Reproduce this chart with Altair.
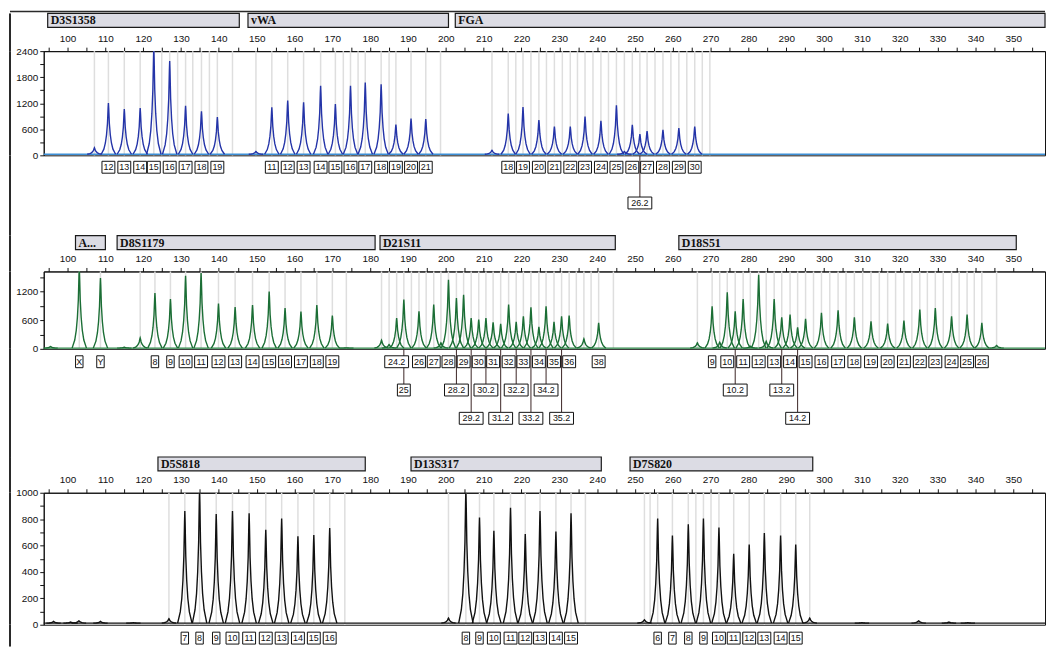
import altair as alt
import pandas as pd

# ---------------- shared axis values ----------------
X_DOMAIN = [93.7, 358.4]
X_TICKS = [95, 100, 105, 110, 115, 120, 125, 130, 135, 140, 145, 150, 155, 160, 165, 170,
           175, 180, 185, 190, 195, 200, 205, 210, 215, 220, 225, 230, 235, 240, 245, 250,
           255, 260, 265, 270, 275, 280, 285, 290, 295, 300, 305, 310, 315, 320, 325, 330,
           335, 340, 345, 350, 355]

# ---------------- panel 1 (blue) ----------------
P1_LOCI = ["D3S1358", "vWA", "FGA"]
P1_LOCUS_START = [94.75, 147.7, 202.5]
P1_LOCUS_END = [145.4, 200.7, 358.4]
P1_Y_TICKS = [0, 300, 600, 900, 1200, 1500, 1800, 2100, 2400]
P1_Y_MAX = 2400
P1_BASE = 25
P1_PEAK_POS = [107.1, 110.8, 115.0, 119.2, 122.8, 127.0, 131.2, 135.4, 139.6,
               149.8, 154.0, 158.2, 162.4, 166.9, 170.8, 174.8, 178.7, 182.9, 186.8, 190.8, 194.7,
               212.2, 216.5, 220.4, 224.6, 228.7, 232.9, 236.8, 241.0, 245.1, 247.2, 249.3, 251.3,
               253.2, 257.4, 261.6, 265.8]
P1_PEAK_H = [175, 1204, 1067, 1090, 2500, 2172, 1143, 1013, 884,
             90, 1105, 1265, 1219, 1600, 1181, 1600, 1676, 1638, 709, 846, 838,
             115, 960, 1110, 815, 665, 665, 895, 795, 1150, 90, 700, 490,
             560, 585, 625, 660]
P1_BINS = [107.1, 110.8, 115.0, 119.2, 122.8, 124.9, 127.0, 129.1, 131.2, 133.1, 135.4, 137.5, 139.6, 143.6,
           149.8, 154.0, 158.2, 162.4, 166.9, 170.8, 172.9, 174.8, 176.8, 178.7, 182.9, 185.0, 186.8,
           190.8, 194.7, 198.6,
           212.2, 216.5, 218.5, 220.4, 222.5, 224.6, 226.6, 228.7, 230.8, 232.9, 234.8, 236.8, 238.9,
           241.0, 243.0, 245.1, 247.2, 249.3, 251.3, 253.2, 255.3, 257.4, 259.5, 261.6, 263.7, 265.8,
           267.8, 269.8]
P1_LABEL_POS = [110.8, 115.0, 119.2, 122.8, 127.0, 131.2, 135.4, 139.6,
                154.0, 158.2, 162.4, 166.9, 170.8, 174.8, 178.7, 182.9, 186.8, 190.8, 194.7,
                216.5, 220.4, 224.6, 228.7, 232.9, 236.8, 241.0, 245.1, 249.3, 253.2, 257.4, 261.6, 265.8,
                251.3]
P1_LABEL_TEXT = ["12", "13", "14", "15", "16", "17", "18", "19",
                 "11", "12", "13", "14", "15", "16", "17", "18", "19", "20", "21",
                 "18", "19", "20", "21", "22", "23", "24", "25", "26", "27", "28", "29", "30",
                 "26.2"]
P1_LABEL_ROW = [1] * 32 + [2]

# ---------------- panel 2 (green) ----------------
P2_LOCI = ["A...", "D8S1179", "D21S11", "D18S51"]
P2_LOCUS_START = [102.1, 113.1, 182.6, 261.6]
P2_LOCUS_END = [110.0, 181.3, 244.8, 350.8]
P2_Y_TICKS = [0, 300, 600, 900, 1200, 1500]
P2_Y_MAX = 1616
P2_BASE = 15
P2_PEAK_POS = [95.5, 103.1, 108.7, 115.0, 119.2,
               123.1, 127.2, 131.2, 135.3, 139.9, 144.3, 148.9, 153.3, 157.5, 161.7, 165.9, 170.0, 173.7,
               183.0, 185.0, 187.0, 188.9, 192.9, 196.8, 198.7, 200.7, 202.8, 204.7, 206.7, 208.7,
               210.6, 212.5, 214.5, 216.6, 218.6, 220.5, 222.5, 224.6, 226.5, 228.6, 230.6, 232.6,
               236.5, 240.4,
               266.5, 270.4, 272.4, 274.4, 276.5, 278.6, 280.5, 282.7, 284.7, 286.8, 288.8, 291.0,
               293.0, 295.1, 299.3, 303.7, 308.0, 312.4, 316.8, 321.1, 325.3, 329.4, 333.7, 337.8,
               341.7, 345.6]
P2_PEAK_H = [50, 1700, 1478, 35, 229,
             1166, 1041, 1527, 1582, 944, 874, 916, 1194, 854, 777, 916, 694, 20,
             180, 90, 645, 1027, 784, 923, 125, 1443, 1062, 1131, 645, 611,
             645, 555, 520, 923, 562, 680, 867, 458, 888, 562, 680, 694,
             208, 541,
             125, 888, 139, 1180, 784, 1041, 55, 1548, 160, 1041, 659, 715,
             451, 625, 750, 805, 659, 576, 527, 590, 819, 854, 680, 715,
             541, 70]
P2_BINS = [103.1, 108.7,
           119.2, 123.1, 127.2, 131.2, 135.3, 139.9, 144.3, 148.9, 153.3, 157.5, 161.7, 165.9, 170.0, 173.7,
           183.0, 185.0, 187.0, 188.9, 190.9, 192.9, 194.8, 196.8, 198.7, 200.7, 202.8, 204.7, 206.7,
           208.7, 210.6, 212.5, 214.5, 216.6, 218.6, 220.5, 222.5, 224.6, 226.5, 228.6, 230.6, 232.6,
           234.5, 236.5, 238.4, 240.4, 244.3,
           266.5, 270.4, 272.4, 274.4, 276.5, 278.6, 280.5, 282.7, 284.7, 286.8, 288.8, 291.0, 293.0,
           295.1, 297.2, 299.3, 301.5, 303.7, 305.8, 308.0, 310.2, 312.4, 314.6, 316.8, 318.9, 321.1,
           323.2, 325.3, 327.3, 329.4, 331.5, 333.7, 335.7, 337.8, 339.7, 341.7, 345.6]
P2_LABEL_POS = [103.1, 108.7,
                123.1, 127.2, 131.2, 135.3, 139.9, 144.3, 148.9, 153.3, 157.5, 161.7, 165.9, 170.0,
                187.0, 192.9, 196.8, 200.7, 204.7, 208.7, 212.5, 216.6, 220.5, 224.6, 228.6, 232.6, 240.4,
                188.9, 202.8, 210.6, 218.6, 226.5,
                206.7, 214.5, 222.5, 230.6,
                270.4, 274.4, 278.6, 282.7, 286.8, 291.0, 295.1, 299.3, 303.7, 308.0, 312.4, 316.8,
                321.1, 325.3, 329.4, 333.7, 337.8, 341.7,
                276.5, 288.8,
                293.0]
P2_LABEL_TEXT = ["X", "Y",
                 "8", "9", "10", "11", "12", "13", "14", "15", "16", "17", "18", "19",
                 "24.2", "26", "27", "28", "29", "30", "31", "32", "33", "34", "35", "36", "38",
                 "25", "28.2", "30.2", "32.2", "34.2",
                 "29.2", "31.2", "33.2", "35.2",
                 "9", "10", "11", "12", "13", "14", "15", "16", "17", "18", "19", "20",
                 "21", "22", "23", "24", "25", "26",
                 "10.2", "13.2",
                 "14.2"]
P2_LABEL_ROW = ([1] * 27 + [2] * 5 + [3] * 4 + [1] * 18 + [2] * 2 + [3])

# ---------------- panel 3 (black) ----------------
P3_LOCI = ["D5S818", "D13S317", "D7S820"]
P3_LOCUS_START = [123.9, 190.8, 248.7]
P3_LOCUS_END = [178.7, 241.1, 297.0]
P3_Y_TICKS = [0, 100, 200, 300, 400, 500, 600, 700, 800, 900, 1000]
P3_Y_MAX = 1000
P3_BASE = 12
P3_PEAK_POS = [96.3, 100.8, 103.0, 108.7, 117.4, 126.8,
               131.0, 134.9, 139.3, 143.6, 148.0, 152.4, 156.6, 160.9, 165.1, 169.3,
               200.7, 205.3, 208.9, 212.7, 217.1, 221.0, 224.9, 229.1, 233.1,
               252.5, 256.0, 259.9, 264.1, 268.1, 272.2, 276.1, 280.2, 284.2, 288.5, 292.5, 296.2,
               310.0, 325.0, 333.0, 338.0]
P3_PEAK_H = [25, 20, 30, 25, 15, 45,
             862, 1030, 838, 862, 845, 720, 805, 670, 680, 733,
             50, 1030, 812, 712, 887, 687, 862, 707, 845,
             38, 805, 675, 762, 805, 737, 537, 607, 695, 675, 607, 50,
             15, 30, 20, 15]
P3_BINS = [126.8, 131.0, 134.9, 139.3, 143.6, 148.0, 152.4, 156.6, 160.9, 165.1, 169.3, 173.3,
           200.7, 205.3, 208.9, 212.7, 217.1, 221.0, 224.9, 229.1, 233.1, 236.9,
           252.5, 254.0, 256.0, 259.9, 264.1, 266.1, 268.1, 270.1, 272.2, 276.1, 280.2, 284.2,
           288.5, 292.5, 296.2]
P3_LABEL_POS = [131.0, 134.9, 139.3, 143.6, 148.0, 152.4, 156.6, 160.9, 165.1, 169.3,
                205.3, 208.9, 212.7, 217.1, 221.0, 224.9, 229.1, 233.1,
                256.0, 259.9, 264.1, 268.1, 272.2, 276.1, 280.2, 284.2, 288.5, 292.5]
P3_LABEL_TEXT = ["7", "8", "9", "10", "11", "12", "13", "14", "15", "16",
                 "8", "9", "10", "11", "12", "13", "14", "15",
                 "6", "7", "8", "9", "10", "11", "12", "13", "14", "15"]
P3_LABEL_ROW = [1] * 28

# ---------------- layout / style ----------------
W = 1009
PX_PER_UNIT = W / (X_DOMAIN[1] - X_DOMAIN[0])
SANS = "Liberation Sans"
SERIF = "Liberation Serif"
PEAK_OFFS = "[-1.9,-1.2,-0.8,-0.5,-0.25,-0.08,0,0.08,0.25,0.5,0.8,1.2,1.9]"
PEAK_FRAC = "[0,0.1,0.22,0.38,0.6,0.9,1,0.9,0.6,0.38,0.22,0.1,0]"
BAR_H = 14
FRAME_X = -34          # outer page frame, left of the y axes
FRAME_COLOR = "#2a2a2a"


def xscale():
    return alt.Scale(domain=X_DOMAIN, nice=False, zero=False)


def frame_left(height):
    return alt.Chart(alt.Data(values=[{}])).mark_rule(
        color=FRAME_COLOR, strokeWidth=2).encode(
        x=alt.value(FRAME_X), y=alt.value(0), y2=alt.value(height))


def frame_top():
    return alt.Chart(alt.Data(values=[{}])).mark_rule(
        color=FRAME_COLOR, strokeWidth=1.5).encode(
        x=alt.value(FRAME_X), x2=alt.value(W), y=alt.value(-2))


def header_chart(names, starts, ends, height, top=False):
    df = pd.DataFrame({"locus": names, "start": starts, "end": ends})
    ys = alt.Scale(domain=[0, height / BAR_H], reverse=True, nice=False, zero=False)
    base = alt.Chart(df)
    rect = base.mark_rect(fill="#dcdce4", stroke="#1a1a1a", strokeWidth=1.2).encode(
        x=alt.X("start:Q", scale=xscale(), axis=None),
        x2="end:Q",
        y=alt.Y(datum=0, scale=ys, axis=None),
        y2=alt.Y2(datum=1),
    )
    txt = base.mark_text(align="left", baseline="middle", dx=3, font=SERIF,
                         fontWeight="bold", fontSize=12, color="#111").encode(
        x=alt.X("start:Q", scale=xscale(), axis=None),
        y=alt.Y(datum=0.5, scale=ys, axis=None),
        text="locus:N",
    )
    layers = [rect, txt, frame_left(height)]
    if top:
        layers.append(frame_top())
    return alt.layer(*layers).properties(width=W, height=height)


def plot_chart(peak_pos, peak_h, bins, ymax, yticks, ystep, base_level, line_color,
               base_color, height):
    xaxis = alt.Axis(orient="top", values=X_TICKS, title=None, grid=False,
                     labelExpr="datum.value % 10 == 0 ? datum.label : ''",
                     tickSize=4, labelPadding=4, labelFontSize=10, labelFont=SANS,
                     labelColor="#111", domainColor="#111", tickColor="#111",
                     labelFlush=False, labelOverlap=False)
    yaxis = alt.Axis(orient="left", values=yticks, title=None, grid=False,
                     labelExpr=f"datum.value % {ystep} == 0 ? datum.label : ''",
                     tickSize=4, labelPadding=2, labelFontSize=10, labelFont=SANS,
                     labelColor="#111", domainColor="#111", tickColor="#111",
                     labelFlush=False, labelOverlap=False, format="d")
    ys = alt.Scale(domain=[0, ymax], nice=False, zero=False)

    bins_df = pd.DataFrame({"bin": bins})
    bin_layer = alt.Chart(bins_df).mark_rule(color="#dedede", strokeWidth=1.5).encode(
        x=alt.X("bin:Q", scale=xscale(), axis=xaxis),
    )

    base_df = pd.DataFrame({"x0": [X_DOMAIN[0]], "x1": [X_DOMAIN[1]], "lvl": [base_level]})
    base_layer = alt.Chart(base_df).mark_rule(color=base_color, strokeWidth=1.3).encode(
        x=alt.X("x0:Q", scale=xscale(), axis=xaxis),
        x2="x1:Q",
        y=alt.Y("lvl:Q", scale=ys, axis=yaxis),
    )

    peaks_df = pd.DataFrame({"pos": peak_pos, "h": peak_h})
    trace = alt.Chart(peaks_df).transform_calculate(
        offs=PEAK_OFFS, fr=PEAK_FRAC
    ).transform_flatten(["offs", "fr"]).transform_calculate(
        px="datum.pos + datum.offs",
        py=f"{base_level} + (datum.h - {base_level}) * datum.fr",
    ).mark_line(color=line_color, strokeWidth=1.4, clip=True).encode(
        x=alt.X("px:Q", scale=xscale(), axis=xaxis),
        y=alt.Y("py:Q", scale=ys, axis=yaxis),
        detail="pos:Q",
    )
    return alt.layer(bin_layer, base_layer, trace, frame_left(height)).properties(
        width=W, height=height,
        view=alt.ViewBackground(stroke="#111", strokeWidth=1),
    )


def label_chart(pos, text, row, height, row_px0, row_gap):
    df = pd.DataFrame({"pos": pos, "lab": text, "row": row})
    r0 = 1 - row_px0 / row_gap
    r1 = 1 + (height - row_px0) / row_gap
    hh = 6.0 / row_gap
    ys = alt.Scale(domain=[r0, r1], reverse=True, nice=False, zero=False)
    base = alt.Chart(df).transform_calculate(
        hw=f"(5.5 * length(datum.lab) + 2) / 2 / {PX_PER_UNIT}",
        xl="datum.pos - datum.hw",
        xr="datum.pos + datum.hw",
        yt=f"datum.row - {hh}",
        yb=f"datum.row + {hh}",
        ytop=f"{r0}",
    )
    conn = base.transform_filter("datum.row > 1").mark_rule(color="#3a2424", strokeWidth=1).encode(
        x=alt.X("pos:Q", scale=xscale(), axis=None),
        y=alt.Y("ytop:Q", scale=ys, axis=None),
        y2="yt:Q",
    )
    box = base.mark_rect(fill="white", stroke="#111", strokeWidth=1).encode(
        x=alt.X("xl:Q", scale=xscale(), axis=None),
        x2="xr:Q",
        y=alt.Y("yt:Q", scale=ys, axis=None),
        y2="yb:Q",
    )
    txt = base.mark_text(fontSize=9, font=SANS, baseline="middle", color="#111").encode(
        x=alt.X("pos:Q", scale=xscale(), axis=None),
        y=alt.Y("row:Q", scale=ys, axis=None),
        text="lab:N",
    )
    return alt.layer(conn, box, txt, frame_left(height)).properties(width=W, height=height)


charts = [
    header_chart(P1_LOCI, P1_LOCUS_START, P1_LOCUS_END, 38, top=True),
    plot_chart(P1_PEAK_POS, P1_PEAK_H, P1_BINS, P1_Y_MAX, P1_Y_TICKS, 600, P1_BASE,
               "#2434a8", "#3d8fd6", 105),
    label_chart(P1_LABEL_POS, P1_LABEL_TEXT, P1_LABEL_ROW, 81, 12, 36),
    header_chart(P2_LOCI, P2_LOCUS_START, P2_LOCUS_END, 36),
    plot_chart(P2_PEAK_POS, P2_PEAK_H, P2_BINS, P2_Y_MAX, P2_Y_TICKS, 600, P2_BASE,
               "#1b6e35", "#2f8a4a", 78),
    label_chart(P2_LABEL_POS, P2_LABEL_TEXT, P2_LABEL_ROW, 109, 13, 28.5),
    header_chart(P3_LOCI, P3_LOCUS_START, P3_LOCUS_END, 36),
    plot_chart(P3_PEAK_POS, P3_PEAK_H, P3_BINS, P3_Y_MAX, P3_Y_TICKS, 200, P3_BASE,
               "#111111", "#111111", 133),
    label_chart(P3_LABEL_POS, P3_LABEL_TEXT, P3_LABEL_ROW, 22, 13.5, 28.5),
]

chart = alt.vconcat(*charts, spacing=0, bounds="flush").configure_view(strokeWidth=0).properties(
    padding={"left": 0, "top": 0, "right": 0, "bottom": 0},
    background="white",
)

chart.save("out.html", embed_options={"renderer": "svg", "actions": False})
